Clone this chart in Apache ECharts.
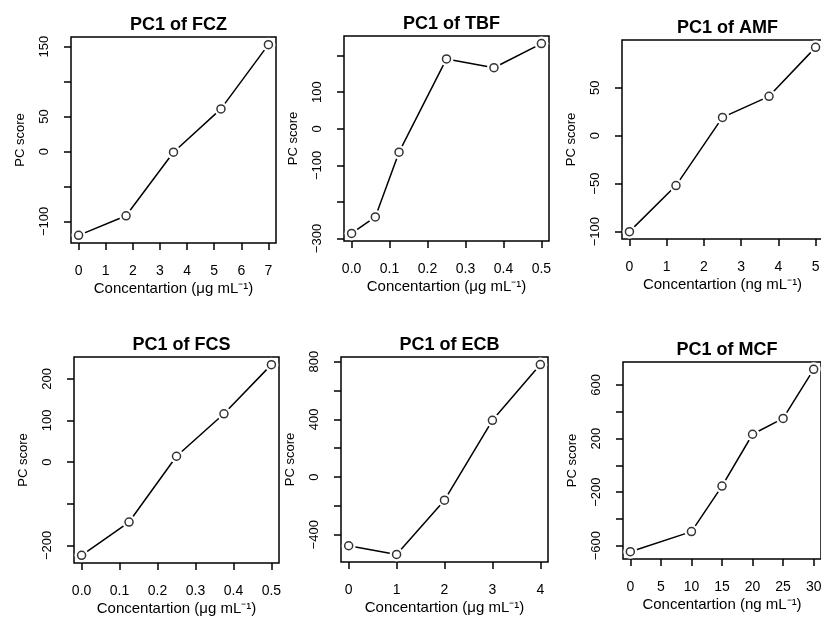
<!DOCTYPE html>
<html>
<head>
<meta charset="utf-8">
<script src="https://cdn.jsdelivr.net/npm/echarts@6.0.0/dist/echarts.min.js"></script>
<style>
html, body { margin: 0; padding: 0; background: #fff; }
#main { width: 821px; height: 619px; }
</style>
</head>
<body>
<div id="main"></div>
<script>
// 各药物浓度与 PC1 得分
var fczConc = [0, 1.75, 3.5, 5.25, 7];
var fczScore = [-120, -92, -1, 61, 153];
var tbfConc = [0, 0.0625, 0.125, 0.25, 0.375, 0.5];
var tbfScore = [-286, -241, -64, 191, 167, 233];
var amfConc = [0, 1.25, 2.5, 3.75, 5];
var amfScore = [-100, -52, 19, 41, 92];
var fcsConc = [0, 0.125, 0.25, 0.375, 0.5];
var fcsScore = [-224, -144, 14, 116, 234];
var ecbConc = [0, 1, 2, 3, 4];
var ecbScore = [-476, -536, -160, 393, 779];
var mcfConc = [0, 10, 15, 20, 25, 30];
var mcfScore = [-645, -495, -155, 232, 350, 717];

// 刻度
var fczXTicks = [0, 1, 2, 3, 4, 5, 6, 7];
var fczYTicks = [-100, -50, 0, 50, 100, 150];
var fczYLabels = [-100, 0, 50, 150];
var tbfXTicks = [0, 0.1, 0.2, 0.3, 0.4, 0.5];
var tbfYTicks = [-300, -200, -100, 0, 100, 200];
var tbfYLabels = [-300, -100, 0, 100];
var amfXTicks = [0, 1, 2, 3, 4, 5];
var amfYTicks = [-100, -50, 0, 50];
var amfYLabels = [-100, -50, 0, 50];
var fcsXTicks = [0, 0.1, 0.2, 0.3, 0.4, 0.5];
var fcsYTicks = [-200, -100, 0, 100, 200];
var fcsYLabels = [-200, 0, 100, 200];
var ecbXTicks = [0, 1, 2, 3, 4];
var ecbYTicks = [-400, -200, 0, 200, 400, 600, 800];
var ecbYLabels = [-400, 0, 400, 800];
var mcfXTicks = [0, 5, 10, 15, 20, 25, 30];
var mcfYTicks = [-600, -400, -200, 0, 200, 400, 600];
var mcfYLabels = [-600, -200, 200, 600];

var ugName = 'Concentartion (\u03bcg mL\u207b\u00b9)';
var ngName = 'Concentartion (ng mL\u207b\u00b9)';

var panels = [
    {title: 'PC1 of FCZ', x: fczConc, y: fczScore, xt: fczXTicks, yt: fczYTicks, yl: fczYLabels, dig: 0, xname: ugName,
     box: [71, 37, 205, 206]},
    {title: 'PC1 of TBF', x: tbfConc, y: tbfScore, xt: tbfXTicks, yt: tbfYTicks, yl: tbfYLabels, dig: 1, xname: ugName,
     box: [344, 36, 205, 205]},
    {title: 'PC1 of AMF', x: amfConc, y: amfScore, xt: amfXTicks, yt: amfYTicks, yl: amfYLabels, dig: 0, xname: ngName,
     box: [622, 40, 201, 199]},
    {title: 'PC1 of FCS', x: fcsConc, y: fcsScore, xt: fcsXTicks, yt: fcsYTicks, yl: fcsYLabels, dig: 1, xname: ugName,
     box: [74, 357, 205, 206]},
    {title: 'PC1 of ECB', x: ecbConc, y: ecbScore, xt: ecbXTicks, yt: ecbYTicks, yl: ecbYLabels, dig: 0, xname: ugName,
     box: [341, 357, 207, 205]},
    {title: 'PC1 of MCF', x: mcfConc, y: mcfScore, xt: mcfXTicks, yt: mcfYTicks, yl: mcfYLabels, dig: 0, xname: ngName,
     box: [623, 362, 198, 197]}
];

var FONT = 'Liberation Sans';

// R 默认坐标轴范围：两端各扩 4%
function rRange(arr) {
    var min = Math.min.apply(null, arr), max = Math.max.apply(null, arr);
    var d = (max - min) * 0.04;
    return [min - d, max + d];
}
function fmt(v, dig) {
    var s = Number(v).toFixed(dig);
    return v < 0 ? '\u2212' + s.replace('-', '') : s;
}

var myChart = echarts.init(document.getElementById('main'), null, {renderer: 'canvas'});
var titles = [], grids = [], xAxes = [], yAxes = [], series = [];

panels.forEach(function (p, i) {
    var b = p.box;
    var xr = rRange(p.x), yr = rRange(p.y);
    titles.push({
        text: p.title,
        left: b[0] + b[2] / 2,
        top: b[1] - 26,
        textAlign: 'center',
        textStyle: {fontFamily: FONT, fontWeight: 'bold', fontSize: 18, color: '#000'}
    });
    grids.push({
        left: b[0], top: b[1], width: b[2], height: b[3],
        show: true, borderColor: '#000', borderWidth: 1.5, backgroundColor: 'transparent',
        containLabel: false, outerBoundsMode: 'none'
    });
    xAxes.push({
        gridIndex: i, type: 'value', min: xr[0], max: xr[1],
        name: p.xname, nameLocation: 'middle', nameGap: 38,
        nameTextStyle: {fontFamily: FONT, fontSize: 15, color: '#000'},
        axisLine: {show: false, onZero: false},
        axisTick: {show: true, length: 7, customValues: p.xt, lineStyle: {color: '#000', width: 1.5}},
        axisLabel: {customValues: p.xt, margin: 21, fontFamily: FONT, fontSize: 14, color: '#000',
            formatter: (function (dig) { return function (v) { return fmt(v, dig); }; })(p.dig)},
        splitLine: {show: false}
    });
    yAxes.push({
        gridIndex: i, type: 'value', min: yr[0], max: yr[1],
        name: 'PC score', nameLocation: 'middle', nameGap: 44,
        nameTextStyle: {fontFamily: FONT, fontSize: 13, color: '#000'},
        axisLine: {show: false, onZero: false},
        axisTick: {show: true, length: 7, customValues: p.yt, lineStyle: {color: '#000', width: 1.5}},
        axisLabel: {customValues: p.yl, rotate: 90, margin: 20, fontFamily: FONT, fontSize: 13, color: '#000',
            formatter: function (v) { return fmt(v, 0); }},
        splitLine: {show: false}
    });
    var pts = p.x.map(function (v, k) { return [v, p.y[k]]; });
    // 连线 + 白色底圈（模拟 R type="b" 的断点效果）
    series.push({
        type: 'line', xAxisIndex: i, yAxisIndex: i, data: pts, z: 2,
        symbol: 'circle', symbolSize: 14, showSymbol: true,
        lineStyle: {color: '#000', width: 1.5},
        itemStyle: {color: '#fff', borderWidth: 0},
        emphasis: {disabled: true}, silent: true
    });
    series.push({
        type: 'scatter', xAxisIndex: i, yAxisIndex: i, data: pts, z: 5,
        symbol: 'circle', symbolSize: 8,
        itemStyle: {color: '#fff', borderColor: '#000', borderWidth: 1.5},
        emphasis: {disabled: true}, silent: true
    });
});

var option = {
    animation: false,
    backgroundColor: '#fff',
    title: titles,
    grid: grids,
    xAxis: xAxes,
    yAxis: yAxes,
    series: series
};
myChart.setOption(option);
</script>
</body>
</html>
